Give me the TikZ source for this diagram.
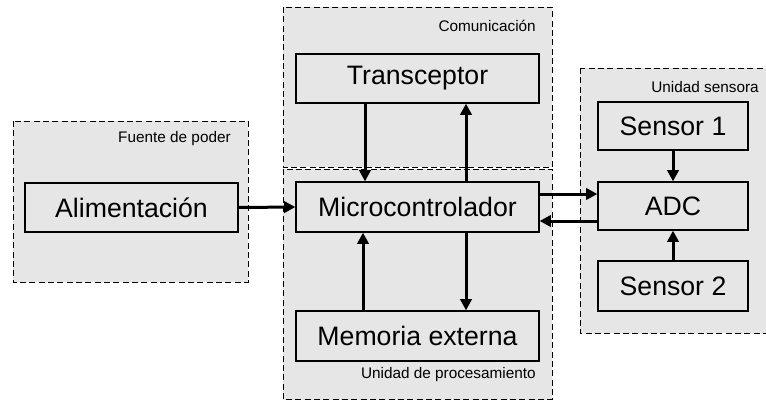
\documentclass[tikz,border=0pt]{standalone}
\usepackage{fontspec}
\setmainfont{Liberation Sans}
\usetikzlibrary{arrows.meta}

\definecolor{fondo}{HTML}{E6E6E6}

\tikzset{
  grupo/.style={draw, dashed, dash pattern=on 4.5pt off 2.5pt, line width=0.75pt, fill=fondo},
  bloque/.style={draw, line width=0.9pt, fill=fondo, inner sep=0pt, font=\fontsize{20}{24}\selectfont},
  titulo/.style={anchor=east, inner sep=0pt, font=\fontsize{11.5}{14}\selectfont},
  flecha/.style={line width=2.25pt, -{Triangle[length=8.5pt,width=8.5pt]}}
}

\begin{document}
\begin{tikzpicture}[x=0.75pt,y=-0.75pt]
    \clip (0,0) rectangle (766,400);

    % Draw the groups
    \draw[grupo] (13,121) rectangle (248,282);
    \draw[grupo] (283,7) rectangle (552,167);
    \draw[grupo] (283,169) rectangle (552,399.5);
    \draw[grupo] (580,68) rectangle (775,333);

    % Add group titles
    \node[titulo] (tfuente) at (231,139) {Fuente de poder};
    \node[titulo] (tcomu) at (536,26) {Comunicación};
    \node[titulo] (tproc) at (536,375) {Unidad de procesamiento};
    \node[titulo] (tsens) at (759,87) {Unidad sensora};

    % Add blocks (sizes in pt, 1px = 0.75pt)
    \node[bloque, minimum width=159.75pt, minimum height=36.75pt] (alim) at (131.5,207.5) {Alimentación};
    \node[bloque, minimum width=182.25pt, minimum height=36.75pt] (trans) at (417.5,78.5) {Transceptor};
    \node[bloque, minimum width=182.25pt, minimum height=37.5pt] (micro) at (417.5,207) {Microcontrolador};
    \node[bloque, minimum width=182.25pt, minimum height=37.5pt] (mem) at (417.5,336) {Memoria externa};
    \node[bloque, minimum width=112.5pt, minimum height=36pt] (sen1) at (673,126) {Sensor 1};
    \node[bloque, minimum width=112.5pt, minimum height=36pt] (adc) at (673,206) {ADC};
    \node[bloque, minimum width=112.5pt, minimum height=37.5pt] (sen2) at (673,286) {Sensor 2};

    % Connect blocks
    \draw[flecha] (alim.east) -- (micro.west);
    \draw[flecha] (trans.south -| 365,0) -- (micro.north -| 365,0);
    \draw[flecha] (micro.north -| 466,0) -- (trans.south -| 466,0);
    \draw[flecha] (mem.north -| 363,0) -- (micro.south -| 363,0);
    \draw[flecha] (micro.south -| 466,0) -- (mem.north -| 466,0);
    \draw[flecha] (micro.east |- 0,194) -- (adc.west |- 0,194);
    \draw[flecha] (adc.west |- 0,221) -- (micro.east |- 0,221);
    \draw[flecha] (sen1.south) -- (adc.north);
    \draw[flecha] (sen2.north) -- (adc.south);
\end{tikzpicture}
\end{document}
